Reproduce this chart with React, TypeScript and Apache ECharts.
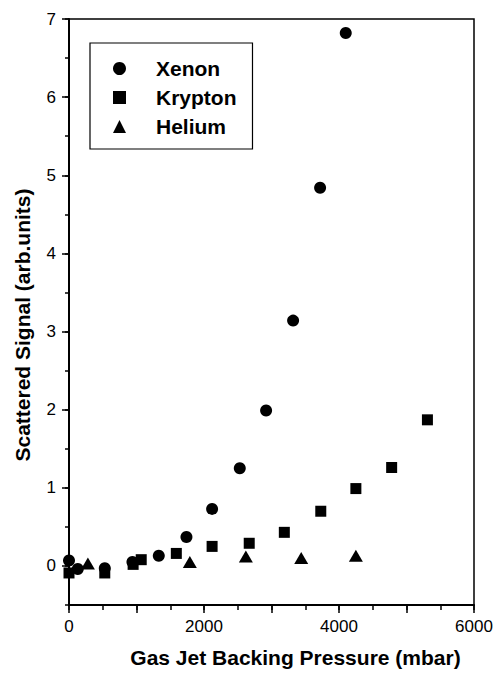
import React, { useEffect, useRef } from "react";
import * as echarts from "echarts";

// Backing pressure (mbar) and scattered signal (arb. units) for each gas
const xenonPressure = [0, 130, 530, 940, 1330, 1740, 2120, 2530, 2920, 3320, 3720, 4100];
const xenonSignal = [0.07, -0.04, -0.03, 0.05, 0.13, 0.37, 0.73, 1.25, 1.99, 3.14, 4.84, 6.82];

const kryptonPressure = [0, 530, 950, 1070, 1590, 2120, 2670, 3190, 3730, 4250, 4780, 5310];
const kryptonSignal = [-0.09, -0.09, 0.02, 0.08, 0.16, 0.25, 0.29, 0.43, 0.7, 0.99, 1.26, 1.87];

const heliumPressure = [280, 1790, 2620, 3440, 4250];
const heliumSignal = [0.03, 0.05, 0.12, 0.1, 0.13];

const yMajorTicks = [0, 1, 2, 3, 4, 5, 6, 7];

const FONT = "'Liberation Sans', Arial, Helvetica, sans-serif";

const pairs = (xs: number[], ys: number[]) => xs.map((x, i) => [x, ys[i]]);

export default function App() {
  const ref = useRef<HTMLDivElement>(null);

  useEffect(() => {
    if (!ref.current) return;
    const chart = echarts.init(ref.current, null, { renderer: "svg" });
    const black = "#000";
    const mark = { color: black, opacity: 1 };

    chart.setOption({
      animation: false,
      backgroundColor: "#fff",
      textStyle: { fontFamily: FONT, color: black },
      grid: {
        left: 69,
        right: 23,
        top: 19,
        bottom: 68,
        show: true,
        borderColor: black,
        borderWidth: 1.5,
      },
      legend: {
        left: 90,
        top: 43,
        orient: "vertical",
        itemWidth: 13,
        itemHeight: 13,
        itemGap: 8,
        padding: [15, 16, 12, 23],
        borderColor: black,
        borderWidth: 1.2,
        textStyle: {
          fontFamily: FONT,
          fontSize: 21,
          fontWeight: "bold",
          color: black,
          padding: [0, 0, 0, 25],
        },
        data: [
          { name: "Xenon", icon: "circle" },
          { name: "Krypton", icon: "rect" },
          { name: "Helium", icon: "triangle" },
        ],
      },
      xAxis: [
        {
          type: "value",
          min: 0,
          max: 6000,
          interval: 500,
          name: "Gas Jet Backing Pressure (mbar)",
          nameLocation: "middle",
          nameGap: 42,
          nameTextStyle: {
            fontFamily: FONT,
            fontSize: 21,
            fontWeight: "bold",
            color: black,
            padding: [0, 0, 0, 48],
          },
          axisLine: { show: true, onZero: false, lineStyle: { color: black, width: 2 } },
          axisTick: { show: true, length: 5, lineStyle: { color: black, width: 1.5 } },
          axisLabel: {
            margin: 13,
            fontFamily: FONT,
            fontSize: 17,
            color: black,
            formatter: (v: number) => (v % 2000 === 0 ? String(v) : ""),
          },
          splitLine: { show: false },
        },
        {
          type: "value",
          min: 0,
          max: 6000,
          interval: 1000,
          position: "bottom",
          axisLine: { show: false, onZero: false },
          axisTick: { show: true, length: 8, lineStyle: { color: black, width: 1.5 } },
          axisLabel: { show: false },
          splitLine: { show: false },
        },
      ],
      yAxis: [
        {
          type: "value",
          min: -0.5,
          max: 7,
          interval: 0.5,
          name: "Scattered Signal (arb.units)",
          nameLocation: "middle",
          nameGap: 36,
          nameTextStyle: {
            fontFamily: FONT,
            fontSize: 21,
            fontWeight: "bold",
            color: black,
            padding: [0, 26, 0, 0],
          },
          axisLine: { show: true, onZero: false, lineStyle: { color: black, width: 2 } },
          axisTick: { show: true, length: 4, lineStyle: { color: black, width: 1.5 } },
          axisLabel: {
            margin: 13,
            fontFamily: FONT,
            fontSize: 17,
            color: black,
            formatter: (v: number) => (Number.isInteger(v) ? String(v) : ""),
          },
          splitLine: { show: false },
        },
        {
          type: "value",
          min: -0.5,
          max: 7,
          position: "left",
          axisLine: { show: false, onZero: false },
          axisTick: {
            show: true,
            length: 7,
            customValues: yMajorTicks,
            lineStyle: { color: black, width: 1.5 },
          },
          axisLabel: { show: false },
          splitLine: { show: false },
        },
      ],
      series: [
        {
          name: "Xenon",
          type: "scatter",
          symbol: "circle",
          symbolSize: 12,
          itemStyle: mark,
          data: pairs(xenonPressure, xenonSignal),
        },
        {
          name: "Krypton",
          type: "scatter",
          symbol: "rect",
          symbolSize: 11,
          itemStyle: mark,
          data: pairs(kryptonPressure, kryptonSignal),
        },
        {
          name: "Helium",
          type: "scatter",
          symbol: "triangle",
          symbolSize: [14, 12],
          itemStyle: mark,
          data: pairs(heliumPressure, heliumSignal),
        },
      ],
    });

    return () => chart.dispose();
  }, []);

  return <div ref={ref} style={{ width: 497, height: 673, position: "absolute", left: 0, top: 0 }} />;
}
